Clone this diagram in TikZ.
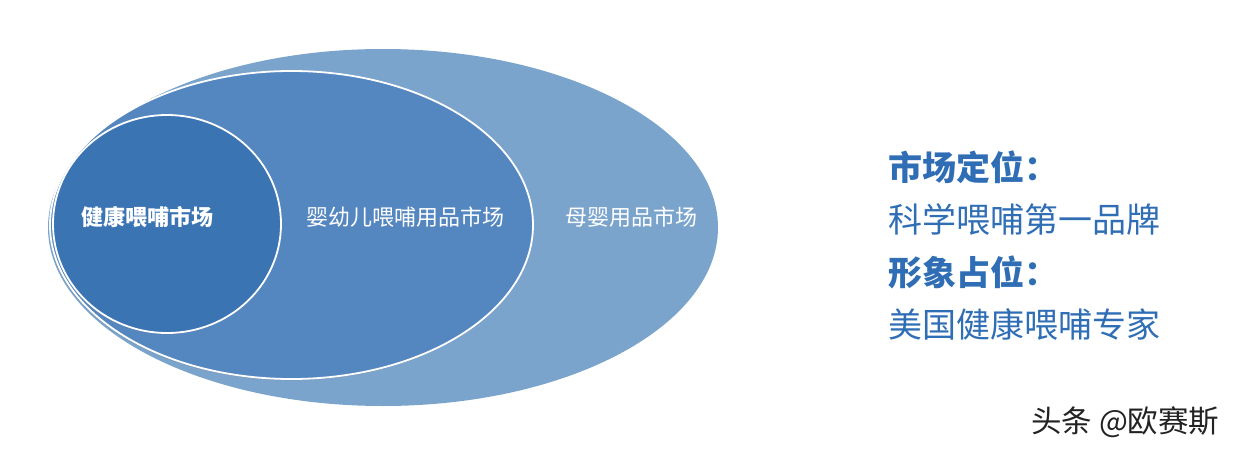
\documentclass[tikz,border=0pt]{standalone}
\usepackage{fontspec}
\usetikzlibrary{shapes.geometric,shadows}
\newfontfamily\cjk{Noto Sans CJK SC}
\definecolor{outerblue}{HTML}{7BA4CC}
\definecolor{midblue}{HTML}{5486BF}
\definecolor{innerblue}{HTML}{3B74B3}
\definecolor{textblue}{HTML}{2F6EB5}
\definecolor{markgray}{HTML}{222222}
\tikzset{
  market/.style={ellipse, inner sep=0pt, outer sep=0pt},
  ring/.style={market, draw=white, line width=1.8pt,
    drop shadow={opacity=0.2, shadow xshift=-0.8pt, shadow yshift=-1.6pt, fill=gray}},
  inlabel/.style={text=white, font=\cjk\fontsize{22}{26}\selectfont, inner sep=0pt},
  sidehead/.style={text=textblue, font=\cjk\bfseries\fontsize{34}{40}\selectfont, anchor=west, inner sep=0pt},
  sidetext/.style={text=textblue, font=\cjk\fontsize{34}{40}\selectfont, anchor=west, inner sep=0pt},
  watermark/.style={text=markgray, font=\cjk\fontsize{30.5}{36}\selectfont, anchor=west, inner sep=0pt}
}
\begin{document}
\begin{tikzpicture}[x=1pt, y=-1pt]
\useasboundingbox (0,0) rectangle (1240,455);
% ellipses
\node[market, fill=outerblue, minimum width=670pt, minimum height=357pt] (outer) at (383,227.5) {};
\node[ring, fill=midblue, minimum width=483pt, minimum height=308pt] (middle) at (291.5,225) {};
\node[ring, fill=innerblue, minimum width=228pt, minimum height=218pt] (inner) at (167,224) {};
% labels
\node[inlabel, font=\cjk\bfseries\fontsize{22}{26}\selectfont] (lin) at (147,217) {健康喂哺市场};
\node[inlabel] (lmid) at (405,217) {婴幼儿喂哺用品市场};
\node[inlabel] (lout) at (631,217) {母婴用品市场};
% side text
\node[sidehead] (h1) at (888,167) {市场定位：};
\node[sidetext] (t1) at (888,220) {科学喂哺第一品牌};
\node[sidehead] (h2) at (888,272) {形象占位：};
\node[sidetext] (t2) at (888,325) {美国健康喂哺专家};
% watermark
\node[watermark] (wm) at (1031,422) {头条 @欧赛斯};
\end{tikzpicture}
\end{document}
